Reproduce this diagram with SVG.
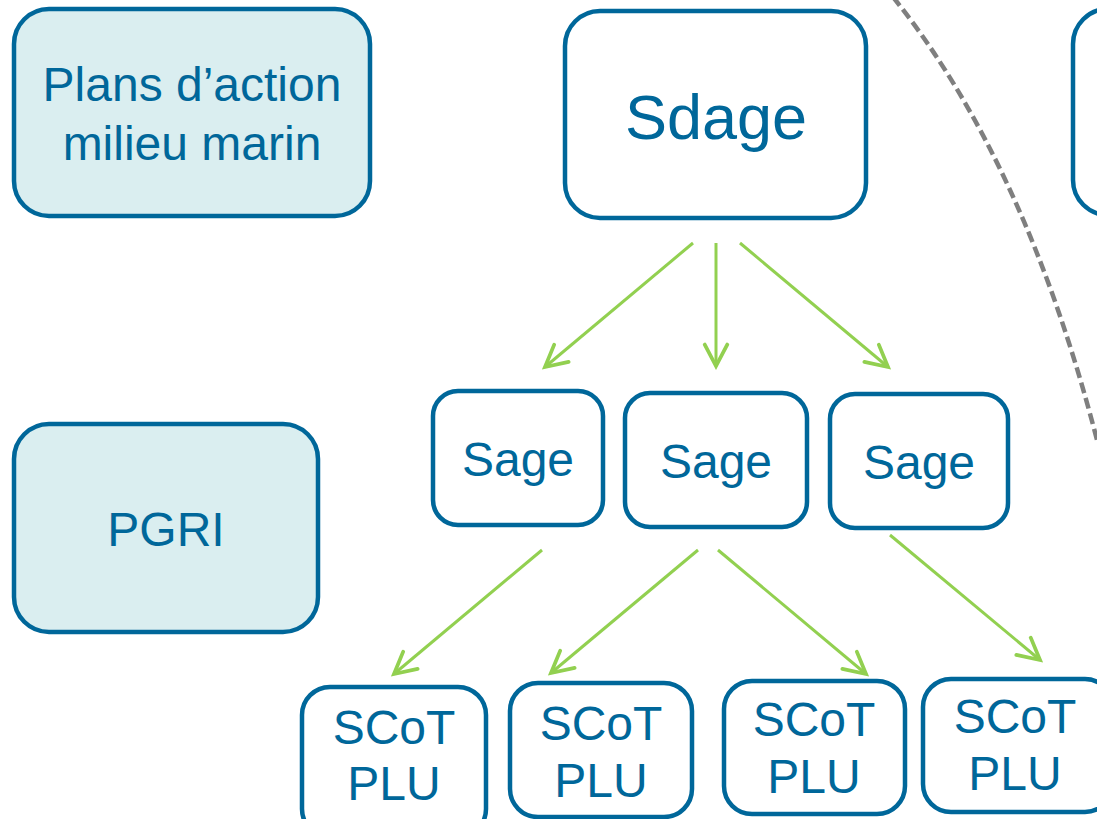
<svg xmlns="http://www.w3.org/2000/svg" width="1097" height="819" viewBox="0 0 1097 819">
  <style>
    .box { fill: #ffffff; stroke: #00679A; stroke-width: 4.5; }
    .lite { fill: #DAEEF0; stroke: #00679A; stroke-width: 4.5; }
    .lbl { font-family: "Liberation Sans", Arial, sans-serif; fill: #00679A; text-anchor: middle; font-size: 48px; }
    .arr { stroke: #92D050; stroke-width: 3; fill: none; marker-end: url(#head); }
  </style>
  <defs>
    <marker id="head" markerUnits="userSpaceOnUse" markerWidth="30" markerHeight="30" viewBox="-24 -14 28 28" refX="0" refY="0" orient="auto">
      <path d="M-20,-10.5 L0,0 L-20,10.5" fill="none" stroke="#92D050" stroke-width="3.5" stroke-linecap="round" stroke-linejoin="miter"/>
    </marker>
  </defs>

  <path id="boundary" d="M893,-3 Q1025,161.5 1097,440" fill="none" stroke="#7F7F7F" stroke-width="4.5" stroke-dasharray="11,5"/>

  <g id="plans">
    <rect class="lite" x="14" y="9" width="356" height="207" rx="35"/>
    <text class="lbl" x="192" y="101">Plans d’action</text>
    <text class="lbl" x="192" y="160">milieu marin</text>
  </g>
  <g id="sdage">
    <rect class="box" x="565" y="11" width="301" height="207" rx="35"/>
    <text class="lbl" x="716" y="139" style="font-size:63px">Sdage</text>
  </g>
  <g id="rightbox">
    <rect class="box" x="1073" y="9" width="300" height="206" rx="35"/>
  </g>
  <g id="pgri">
    <rect class="lite" x="14" y="424" width="304" height="208" rx="35"/>
    <text class="lbl" x="166" y="546">PGRI</text>
  </g>
  <g id="sage1">
    <rect class="box" x="433" y="391" width="170" height="134" rx="25"/>
    <text class="lbl" x="518" y="476">Sage</text>
  </g>
  <g id="sage2">
    <rect class="box" x="625" y="393" width="182" height="134" rx="25"/>
    <text class="lbl" x="716" y="478">Sage</text>
  </g>
  <g id="sage3">
    <rect class="box" x="830" y="394" width="178" height="134" rx="25"/>
    <text class="lbl" x="919" y="479">Sage</text>
  </g>
  <g id="scot1">
    <rect class="box" x="302" y="687" width="184" height="150" rx="28"/>
    <text class="lbl" x="394" y="744">SCoT</text>
    <text class="lbl" x="394" y="800">PLU</text>
  </g>
  <g id="scot2">
    <rect class="box" x="510" y="683" width="182" height="134" rx="28"/>
    <text class="lbl" x="601" y="740">SCoT</text>
    <text class="lbl" x="601" y="797">PLU</text>
  </g>
  <g id="scot3">
    <rect class="box" x="724" y="681" width="181" height="133" rx="28"/>
    <text class="lbl" x="814" y="736">SCoT</text>
    <text class="lbl" x="814" y="793">PLU</text>
  </g>
  <g id="scot4">
    <rect class="box" x="923" y="679" width="190" height="133" rx="28"/>
    <text class="lbl" x="1015" y="733">SCoT</text>
    <text class="lbl" x="1015" y="790">PLU</text>
  </g>

  <g id="connectors">
    <line class="arr" x1="693" y1="243" x2="545" y2="367"/>
    <line class="arr" x1="716" y1="243" x2="716" y2="366"/>
    <line class="arr" x1="740" y1="243" x2="888" y2="367"/>
    <line class="arr" x1="542" y1="550" x2="394" y2="674"/>
    <line class="arr" x1="698" y1="550" x2="551" y2="673"/>
    <line class="arr" x1="718" y1="550" x2="866" y2="674"/>
    <line class="arr" x1="890" y1="535" x2="1040" y2="660"/>
  </g>
</svg>
